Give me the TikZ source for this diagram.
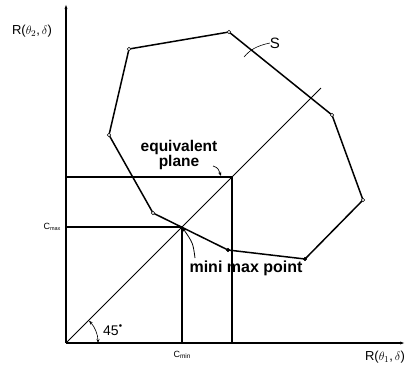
\documentclass[tikz,border=0pt]{standalone}
\usepackage{fontspec}
\setmainfont{Liberation Sans}
\usetikzlibrary{arrows.meta}
\begin{document}
\begin{tikzpicture}[x=1pt,y=-1pt,
  axis/.style={line width=1.3pt},
  guide/.style={line width=1.2pt},
  poly/.style={line width=1.5pt},
  vtx/.style={circle,draw,fill=white,line width=0.6pt,inner sep=0pt,minimum size=3.6pt},
  lbl/.style={font=\fontsize{13}{13}\selectfont,inner sep=0pt},
  bold/.style={font=\fontsize{15.5}{15}\selectfont\bfseries,inner sep=0pt,align=center}]
\useasboundingbox (0,0) rectangle (410,368);
% axes
\coordinate (O) at (66,343);
\coordinate (ytop) at (66,3);
\coordinate (xend) at (406,343);
\draw[axis,-{Latex[length=6pt,width=3pt]}] (O) -- (ytop);
\draw[axis,-{Latex[length=6pt,width=3pt]}] (O) -- (xend);
\node[lbl] (ylab) at (32,31) {R($\theta_{2}$,$\,\delta$)};
\node[lbl] (xlab) at (385,357) {R($\theta_{1}$,$\,\delta$)};
% diagonal
\coordinate (dend) at (321,88);
\draw[line width=0.9pt] (O) -- (dend);
% equivalent plane square
\coordinate (E) at (232,177);
\coordinate (Ey) at (66,177);
\coordinate (Ex) at (232,343);
\draw[guide] (Ey) -- (E) -- (Ex);
% minimax lines
\coordinate (M) at (182,227);
\coordinate (My) at (66,227);
\coordinate (Mx) at (182,343);
\draw[guide] (My) -- (M) -- (Mx);
\node[font=\fontsize{9}{9}\selectfont,inner sep=0pt] (cmax) at (52,227) {C\raisebox{-0.3ex}{\fontsize{5.5}{5.5}\selectfont max}};
\node[font=\fontsize{9}{9}\selectfont,inner sep=0pt] (cmin) at (182,355) {C\raisebox{-0.3ex}{\fontsize{6.5}{6.5}\selectfont min}};
% polygon S
\coordinate (p1) at (129,49);
\coordinate (p2) at (229,32);
\coordinate (p3) at (332,115);
\coordinate (p4) at (363,200);
\coordinate (p5) at (305,259);
\coordinate (p6) at (228,250);
\coordinate (p7) at (153,213);
\coordinate (p8) at (109,135);
\draw[poly] (p1) -- (p2) -- (p3) -- (p4) -- (p5) -- (p6) -- (p7) -- (p8) -- cycle;
\foreach \p in {p1,p2,p3,p4,p7,p8} \node[vtx] at (\p) {};
\foreach \p in {p5,p6} \node[vtx,fill=black] at (\p) {};
% S label
\node[font=\fontsize{15}{15}\selectfont,inner sep=0pt] (S) at (275,43) {S};
\coordinate (st) at (244,57);
\draw[line width=0.6pt] (st) .. controls (250,50) and (256,46) .. (S.west);
% 45 degree
\node[font=\fontsize{14}{14}\selectfont,inner sep=0pt] (ang) at (113,330) {45\raisebox{0.7ex}{\fontsize{8}{8}\selectfont$^\bullet$}};
\draw[line width=0.6pt,{Stealth[length=4pt,width=3pt]}-{Stealth[length=4pt,width=3pt]}] ([shift={(-44:32)}]O) arc[start angle=-44,end angle=0,radius=32];
% equivalent plane label
\node[bold] (eq) at (179,155) {equivalent\\plane};
\coordinate (eqs) at (213,166);
\draw[line width=0.7pt,-{Stealth[length=4pt,width=3pt]}] (eqs) .. controls (218,168) .. (221,176);
% mini max point label
\node[bold,font=\fontsize{16}{16}\selectfont\bfseries] (mm) at (246,268) {mini max point};
\coordinate (mms) at (195,258);
\draw[line width=0.8pt,-{Stealth[length=5pt,width=3pt]}] (mms) .. controls (193,243) .. (M);
\end{tikzpicture}
\end{document}
